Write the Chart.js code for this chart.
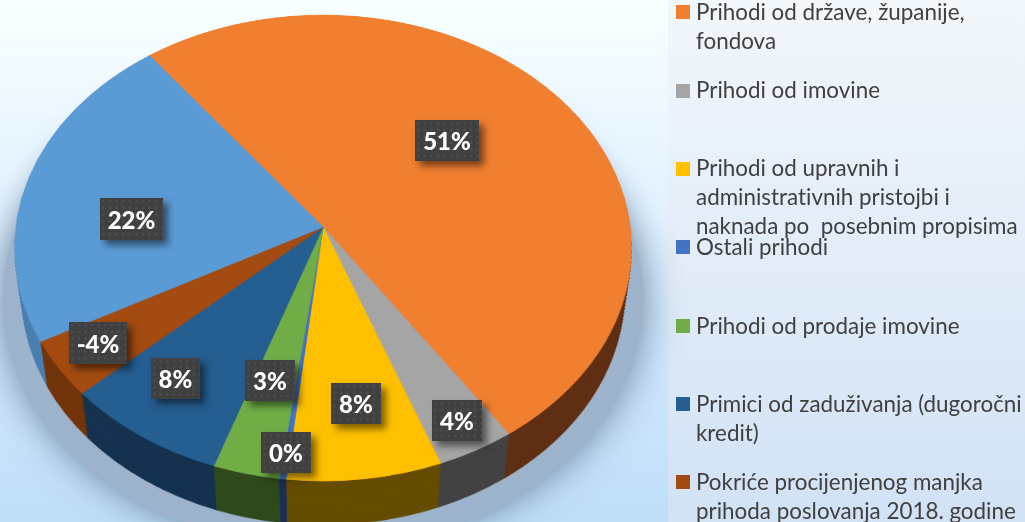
<!DOCTYPE html>
<html>
<head>
<meta charset="utf-8">
<script src="https://cdn.jsdelivr.net/npm/chart.js@4"></script>
<style>
  html, body { margin: 0; padding: 0; }
  body { width: 1025px; height: 522px; overflow: hidden; position: relative;
         background: linear-gradient(180deg, #f8ffff 0%, #e2f2ff 40%, #d2e8fc 65%, #bfdef8 100%); }
  #panel { position: absolute; left: 668px; top: 0; width: 357px; height: 522px;
           background: linear-gradient(180deg, #f2f7fb 0%, #d1e2f5 100%); }
  #pie { position: absolute; left: -77px; top: -173px; transform-origin: 400px 400px; }
  .box { position: absolute; background-color: #404040; box-shadow: 5px 5px 7px rgba(0,0,0,.5);
         background-image: radial-gradient(circle, #4f4f4f 1px, transparent 1.4px);
         background-size: 6.6px 6.6px; color: #fff; font: 900 24px Lato, sans-serif;
         display: flex; align-items: center; justify-content: center; }
  .swatch { position: absolute; left: 676px; width: 14px; height: 14px; }
  .item { position: absolute; left: 696px; font: 22.4px/29px Lato, sans-serif; color: #404040;
          white-space: pre; font-variant-ligatures: none; }
</style>
</head>
<body>
<div id="panel"></div>
<canvas id="pie" width="800" height="800"></canvas>
<script>
// the light blue slice has no legend line, the legend is cut off in the picture
const categories = [
  ['Prihodi od države, županije,', 'fondova'],
  ['Prihodi od imovine'],
  ['Prihodi od upravnih i', 'administrativnih pristojbi i', 'naknada po  posebnim propisima'],
  ['Ostali prihodi'],
  ['Prihodi od prodaje imovine'],
  ['Primici od zaduživanja (dugoročni', 'kredit)'],
  ['Pokriće procijenjenog manjka', 'prihoda poslovanja 2018. godine'],
  ['']
];
const sliceValues = [50.9, 3.75, 7.45, 0.33, 3.2, 7.9, 3.95, 22.5];
const percentLabels = ['51%', '4%', '8%', '0%', '3%', '8%', '-4%', '22%'];

const topColors = ['#F07F30', '#A5A5A5', '#FFC000', '#4472C4', '#70AD47', '#255E91', '#A34B10', '#5B9BD5'];
const sideColors = ['#603014', '#434343', '#654C00', '#1B2E5A', '#2F4A1C', '#15324F', '#73340B', '#4A7FB0'];

// layout only: x, y, w, h of the label boxes and top of each legend entry
const labelBoxes = [[415,120,64,41],[432,400,50,41],[331,383,50,41],[261,432,50,41],
                    [245,360,50,41],[151,358,49,41],[69,322,58,42],[100,198,63,42]];
const swatchTops = [5, 84, 162, 240, 319, 397, 475];
const textTops = [-3, 75, 153, 232, 311, 389, 467];

// perspective of the pie disc (radius R in canvas px)
const R = 340;
const A = 307, B = 231, Q = 0.09;
const canvas = document.getElementById('pie');
canvas.style.transform = `matrix3d(${A/R},0,0,0, 0,${B/R},0,${-Q/R}, 0,0,1,0, 0,0,0,1)`;

// extrudes the wall: the arcs are drawn again, shifted and a bit smaller, in dark colours
const wallPlugin = {
  id: 'wall',
  beforeDatasetDraw(chart) {
    const ctx = chart.ctx;
    const arcs = chart.getDatasetMeta(0).data;
    const cx = arcs[0].x, cy = arcs[0].y;
    const shift = 0.195 * R, shrink = 0.04, steps = 70;

    ctx.save();
    ctx.shadowColor = 'rgba(80,105,135,.8)';
    ctx.shadowBlur = 40;
    ctx.fillStyle = '#9db3cb';
    ctx.beginPath();
    ctx.arc(cx, cy + 0.21 * R, R * 1.02, 0, Math.PI * 2);
    ctx.fill();
    ctx.restore();

    for (let s = steps; s > 0; s--) {
      const t = s / steps;
      ctx.save();
      ctx.translate(cx, cy + t * shift);
      ctx.scale(1 - t * shrink, 1 - t * shrink);
      ctx.translate(-cx, -cy);
      arcs.forEach((arc, i) => {
        const keep = arc.options;
        arc.options = { backgroundColor: sideColors[i], borderColor: sideColors[i], borderWidth: 1,
                        offset: 0, spacing: 0, circular: true, borderRadius: 0, borderAlign: 'center',
                        borderJoinStyle: 'round', borderDash: [], borderDashOffset: 0 };
        arc.draw(ctx);
        arc.options = keep;
      });
      ctx.restore();
    }
  }
};

new Chart(canvas, {
  type: 'pie',
  data: {
    labels: categories.map(c => c.join(' ')),
    datasets: [{
      data: sliceValues,
      backgroundColor: topColors,
      borderColor: topColors,
      borderWidth: 1,
      radius: R,
      rotation: -37.3
    }]
  },
  options: {
    responsive: false,
    animation: false,
    devicePixelRatio: 1,
    plugins: { legend: { display: false }, tooltip: { enabled: false } }
  },
  plugins: [wallPlugin]
});

percentLabels.forEach((text, i) => {
  const b = labelBoxes[i];
  const el = document.createElement('div');
  el.className = 'box';
  el.style.cssText = `left:${b[0]}px;top:${b[1]}px;width:${b[2]}px;height:${b[3]}px`;
  el.textContent = text;
  document.body.appendChild(el);
});

swatchTops.forEach((top, i) => {
  const sw = document.createElement('div');
  sw.className = 'swatch';
  sw.style.top = top + 'px';
  sw.style.background = topColors[i];
  document.body.appendChild(sw);
  const item = document.createElement('div');
  item.className = 'item';
  item.style.top = textTops[i] + 'px';
  item.textContent = categories[i].join('\n');
  document.body.appendChild(item);
});
</script>
</body>
</html>
